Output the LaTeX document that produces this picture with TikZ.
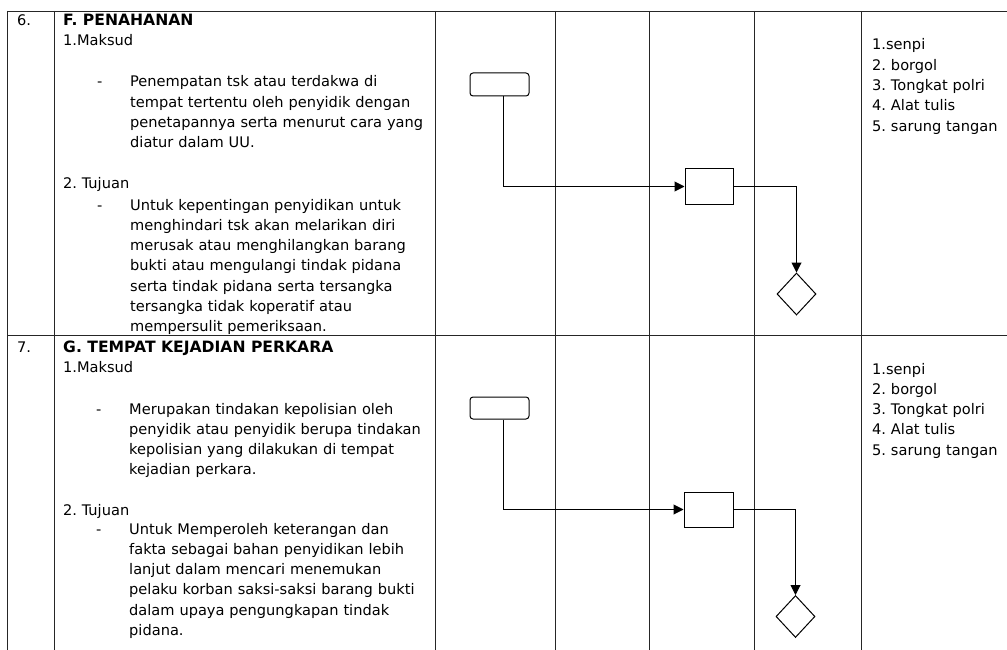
\documentclass[tikz,border=0pt]{standalone}
\usepackage{fontspec}
\setmainfont{DejaVu Sans}
\usetikzlibrary{arrows.meta,shapes.geometric}
\begin{document}
\frenchspacing
\begin{tikzpicture}[x=1pt,y=-1pt,
  grid/.style={line width=0.95pt,black!85},
  txt/.style={anchor=base west,inner sep=0pt,font=\fontsize{14.6}{20.3}\selectfont},
  hdr/.style={anchor=base west,inner sep=0pt,font=\fontsize{15.6}{20.3}\selectfont\bfseries},
  para/.style={anchor=base west,inner sep=0pt,text width=330pt,align=left,font=\fontsize{14.6}{20.3}\selectfont},
  termbox/.style={draw,line width=1pt,rounded corners=3pt,minimum width=59pt,minimum height=23pt,inner sep=0pt},
  procbox/.style={draw,line width=1pt,minimum width=48pt,minimum height=35pt,inner sep=0pt},
  decbox/.style={draw,line width=1pt,diamond,minimum width=39pt,minimum height=42pt,inner sep=0pt},
  conn/.style={line width=1pt,-{Triangle[length=10pt,width=10pt]}}]
\useasboundingbox (0,0) rectangle (1007,650);
\fill[white] (0,0) rectangle (1007,650);

% ---------- row 6 text ----------
\node[txt] (n6) at (17,26) {6.};
\node[hdr] (h6) at (63,26) {F. PENAHANAN};
\node[txt] (m6) at (63,46) {1.Maksud};
\node[txt] (d6a) at (97,87) {-};
\node[para] (p6a) at (130,87) {Penempatan tsk atau terdakwa di\\tempat tertentu oleh penyidik dengan\\penetapannya serta menurut cara yang\\diatur dalam UU.};
\node[txt] (t6) at (63,189) {2. Tujuan};
\node[txt] (d6b) at (97,210) {-};
\node[para] (p6b) at (130,210) {Untuk kepentingan penyidikan untuk\\menghindari tsk akan melarikan diri\\merusak atau menghilangkan barang\\bukti atau mengulangi tindak pidana\\serta tindak pidana serta tersangka\\tersangka tidak koperatif atau\\mempersulit pemeriksaan.};
\node[para] (r6) at (872,50) {1.senpi\\2. borgol\\3. Tongkat polri\\4. Alat tulis\\5. sarung tangan};

% ---------- row 7 text ----------
\node[txt] (n7) at (17,352) {7.};
\node[hdr] (h7) at (63,352) {G. TEMPAT KEJADIAN PERKARA};
\node[txt] (m7) at (63,372) {1.Maksud};
\node[txt] (d7a) at (96,414) {-};
\node[para] (p7a) at (129,414) {Merupakan tindakan kepolisian oleh\\penyidik atau penyidik berupa tindakan\\kepolisian yang dilakukan di tempat\\kejadian perkara.};
\node[txt] (t7) at (63,515) {2. Tujuan};
\node[txt] (d7b) at (96,534) {-};
\node[para] (p7b) at (129,534) {Untuk Memperoleh keterangan dan\\fakta sebagai bahan penyidikan lebih\\lanjut dalam mencari menemukan\\pelaku korban saksi-saksi barang bukti\\dalam upaya pengungkapan tindak\\pidana.};
\node[para] (r7) at (872,374) {1.senpi\\2. borgol\\3. Tongkat polri\\4. Alat tulis\\5. sarung tangan};

% ---------- table lines ----------
\draw[grid] (7,11) -- (1007,11);
\draw[grid] (7,335) -- (1007,335);
\foreach \xx in {7,54,435,555,649,754,861}
  \draw[grid] (\xx,11) -- (\xx,650);

% ---------- flow row 6 ----------
\node[termbox] (term1) at (499.5,84.5) {};
\node[procbox] (proc1) at (709,186.5) {};
\node[decbox] (dec1) at (796.5,294) {};
\draw[conn] ([xshift=3.5pt]term1.south) |- (proc1.west);
\draw[conn] (proc1.east) -| (dec1.north);

% ---------- flow row 7 ----------
\node[termbox,minimum height=22pt] (term2) at (499.5,408) {};
\node[procbox,minimum width=49pt] (proc2) at (708.5,509.5) {};
\node[decbox] (dec2) at (795.5,616.5) {};
\draw[conn] ([xshift=3.5pt]term2.south) |- (proc2.west);
\draw[conn] (proc2.east) -| (dec2.north);
\end{tikzpicture}
\end{document}
